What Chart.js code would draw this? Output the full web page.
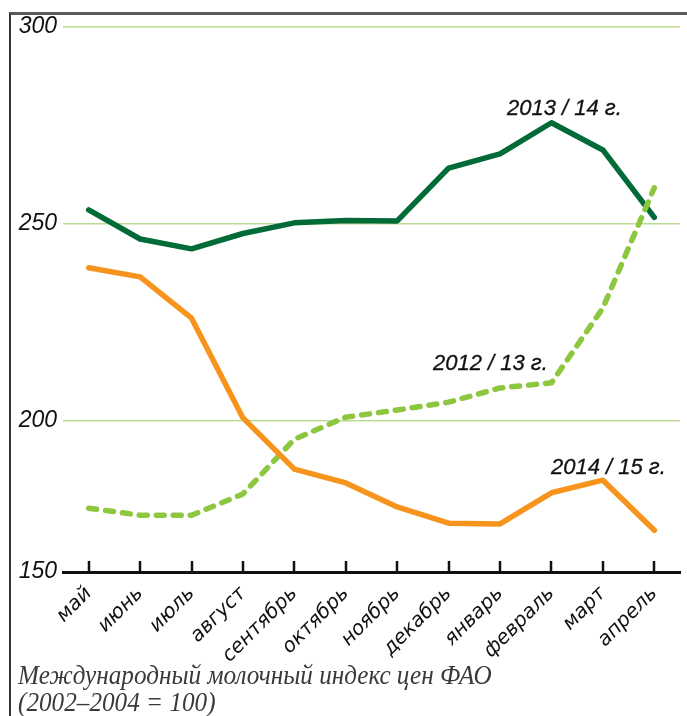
<!DOCTYPE html>
<html lang="ru">
<head>
<meta charset="utf-8">
<title>Молочный индекс цен ФАО</title>
<script src="https://cdn.jsdelivr.net/npm/chart.js@4/dist/chart.umd.min.js"></script>
<style>
    html, body { margin: 0; padding: 0; background: #fff; }
    #wrap { position: relative; width: 687px; height: 716px; overflow: hidden; }
    #frame {
        position: absolute; left: 9px; top: 12px; right: -5px; bottom: -5px;
        border-top: 3px solid #5a5a5a; border-left: 2px solid #333;
    }
    #chart { position: absolute; left: 0; top: 0; }
    .series-label {
        position: absolute; font: italic 22px "Liberation Sans", Arial, sans-serif;
        color: #111; white-space: nowrap; line-height: 1;
        -webkit-text-stroke: 0.3px #111;
    }
    #caption {
        position: absolute; left: 18px; top: 661px;
        font: italic 28px "Liberation Serif", "Times New Roman", serif;
        color: #3a3a3a; line-height: 27px; white-space: nowrap;
        transform: scaleX(0.9); transform-origin: left top;
    }
</style>
</head>
<body>
<div id="wrap">
    <div id="frame"></div>
    <canvas id="chart" width="687" height="716"></canvas>
    <div class="series-label" style="left:507px; top:97px;">2013 / 14 г.</div>
    <div class="series-label" style="left:433px; top:352px;">2012 / 13 г.</div>
    <div class="series-label" style="left:551px; top:456px;">2014 / 15 г.</div>
    <div id="caption">Международный молочный индекс цен ФАО<br>(2002–2004 = 100)</div>
</div>
<script>
// months of the marketing year, May to April
var months = ['май', 'июнь', 'июль', 'август', 'сентябрь', 'октябрь',
              'ноябрь', 'декабрь', 'январь', 'февраль', 'март', 'апрель'];

var season1314 = [253.6, 246.2, 243.7, 247.6, 250.3, 250.9, 250.8, 264.2, 267.8, 275.7, 268.8, 251.7];
var season1415 = [238.9, 236.6, 226.1, 200.8, 187.8, 184.3, 178.2, 174.1, 173.9, 181.8, 185.0, 172.3];
var season1213 = [177.9, 176.1, 176.1, 181.5, 195.4, 201.0, 202.8, 204.8, 208.4, 209.7, 228.7, 259.2];

// the axis floor is printed as 150, though the gridline spacing puts it near 161.7
var yTickValues = [161.7, 200, 250, 300];
var yTickLabels = ['150', '200', '250', '300'];

// small upward tick marks on the category axis
var upTicks = {
    id: 'upTicks',
    afterDraw: function(chart) {
        var x = chart.scales.x, ctx = chart.ctx;
        var bottom = chart.chartArea.bottom;
        ctx.save();
        ctx.strokeStyle = '#111';
        ctx.lineWidth = 2.5;
        for (var i = 0; i < months.length; i++) {
            var px = Math.round(x.getPixelForValue(i));
            ctx.beginPath();
            ctx.moveTo(px, bottom);
            ctx.lineTo(px, bottom - 11);
            ctx.stroke();
        }
        ctx.restore();
    }
};

new Chart(document.getElementById('chart'), {
    type: 'line',
    data: {
        labels: months,
        datasets: [
            {
                label: '2014/15',
                data: season1415,
                borderColor: '#f7941d',
                borderWidth: 5.5,
                borderJoinStyle: 'round',
                borderCapStyle: 'round'
            },
            {
                label: '2012/13',
                data: season1213,
                borderColor: '#8dc63f',
                borderWidth: 5.5,
                borderDash: [8, 9],
                borderCapStyle: 'round',
                borderJoinStyle: 'round'
            },
            {
                label: '2013/14',
                data: season1314,
                borderColor: '#006b37',
                borderWidth: 5.5,
                borderJoinStyle: 'round',
                borderCapStyle: 'round'
            }
        ]
    },
    options: {
        responsive: false,
        animation: false,
        events: [],
        layout: { padding: { top: 27, right: 7, left: 0, bottom: 0 } },
        elements: { point: { radius: 0 }, line: { tension: 0 } },
        plugins: { legend: { display: false }, tooltip: { enabled: false } },
        scales: {
            x: {
                offset: true,
                grid: { display: false },
                border: { display: true, color: '#111', width: 3 },
                ticks: {
                    minRotation: 45,
                    maxRotation: 45,
                    padding: 2,
                    color: '#111',
                    font: { family: 'DejaVu Sans', style: 'italic', size: 20 }
                },
                afterFit: function(scale) { scale.height = 144; }
            },
            y: {
                min: yTickValues[0],
                max: 300,
                afterBuildTicks: function(scale) {
                    scale.ticks = yTickValues.map(function(v) { return { value: v }; });
                },
                afterFit: function(scale) { scale.width = 63; },
                border: { display: false },
                grid: { color: '#bcdc94', lineWidth: 1.5, drawTicks: false },
                ticks: {
                    padding: 6,
                    color: '#111',
                    font: { family: 'Liberation Sans', style: 'italic', size: 23 },
                    callback: function(value, index) { return yTickLabels[index]; }
                }
            }
        }
    },
    plugins: [upTicks]
});
</script>
</body>
</html>
